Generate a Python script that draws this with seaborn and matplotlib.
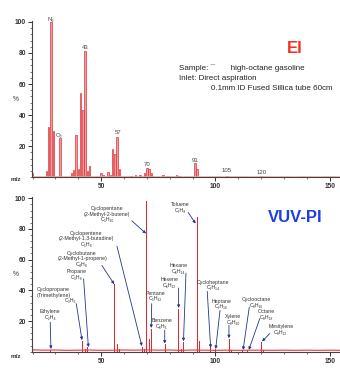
import matplotlib
matplotlib.use('Agg')
import numpy as np
import pandas as pd
import matplotlib.pyplot as plt
import seaborn as sns
from matplotlib.ticker import MultipleLocator, FixedLocator

# ---------------- data ----------------
ei_mz = [20, 26, 27, 28, 29, 32, 37, 38, 39, 40, 41, 42, 43, 44, 45, 50, 51, 53, 54,
         55, 56, 57, 58, 63, 65, 67, 69, 70, 71, 72, 77, 79, 83, 84, 91, 92, 105, 120]
ei_int = [3, 4, 32, 100, 30, 25, 2.5, 4.5, 27, 5, 54, 43, 81, 4, 7.5, 2.5, 1.5, 3.5, 1.5,
          18, 15, 26, 5.5, 1, 1.5, 1.5, 3, 6, 5, 3, 1.2, 0.8, 1.5, 1, 9, 5, 1, 0.5]

vuv_mz = [28, 42, 43, 44, 56, 57, 58, 68, 69, 70, 71, 72, 78, 84, 85, 86,
          92, 93, 98, 100, 106, 107, 112, 114, 120, 121]
vuv_int = [1.2, 7, 1.5, 3, 44, 5, 2, 3, 1.5, 98, 8, 15, 5, 28, 2, 6.5,
           87.5, 7, 3, 2, 8.2, 1, 1, 1, 6.5, 1]

vuv_base_mz = [20, 25, 30, 35, 40, 45, 50, 55, 60, 65, 70, 75, 80, 85, 90, 95,
               100, 105, 110, 115, 120, 125, 130, 135, 140, 145, 150, 155]
vuv_base = [1.2, 1.0, 1.1, 0.9, 1.0, 1.1, 0.9, 1.0, 1.1, 1.0, 1.2, 1.0, 1.1, 0.9,
            1.1, 1.0, 0.9, 1.0, 0.9, 1.0, 1.0, 0.9, 1.0, 0.9, 1.0, 0.9, 1.0, 0.9]
ei_base = [0.4, 0.3, 0.4, 0.3, 0.4, 0.3, 0.4, 0.3, 0.4, 0.3, 0.4, 0.3, 0.4, 0.3,
           0.4, 0.3, 0.4, 0.3, 0.4, 0.3, 0.4, 0.3, 0.4, 0.3, 0.4, 0.3, 0.4, 0.3]

ei_peak_labels = ['N₂', 'O₂', '43', '57', '70', '91', '105', '120']
vuv_compounds = [
    'Cyclopentane\n(2-Methyl-2-butene)\nC₅H₁₀',
    'Cyclopentene\n(2-Methyl-1,3-butadine)\nC₅H₈',
    'Cyclobutane\n(2-Methyl-1-propene)\nC₄H₈',
    'Propane\nC₃H₈',
    'Cyclopropane\n(Trimethylene)',
    'Ethylene\nC₂H₄',
    'Pentane\nC₅H₁₂',
    'Benzene\nC₆H₆',
    'Hexene\nC₆H₁₂',
    'Hexane\nC₆H₁₄',
    'Toluene\nC₇H₈',
    'Cycloheptane\nC₇H₁₄',
    'Heptane\nC₇H₁₆',
    'Xylene\nC₈H₁₀',
    'Cyclooctane\nC₈H₁₆',
    'Octane\nC₈H₁₈',
    'Mesitylene\nC₉H₁₂',
]

# ---------------- layout of annotations (positions only) ----------------
ei_label_pos = [(28, 101.8), (31.8, 27.0), (43, 83.5), (57.3, 28.6), (70, 7.9),
                (91, 10.6), (105, 4.0), (120, 2.8)]
# text anchor (x, top), arrow start, arrow end
vuv_layout = [
    ((52.6, 95.0), (63.4, 85.3), (69.6, 77.0)),
    ((43.4, 78.8), (56.9, 68.7), (67.8, 3.7)),
    ((41.6, 65.9), (50.3, 56.2), (55.7, 44.0)),
    ((39.4, 53.9), (42.3, 47.5), (44.4, 3.0)),
    ((29.2, 42.1), (39.1, 31.3), (41.6, 7.6)),
    ((27.7, 27.5), (27.7, 19.2), (28.0, 1.8)),
    ((73.6, 39.8), (72.1, 31.3), (71.9, 15.5)),
    ((76.5, 21.7), (77.8, 14.1), (77.8, 5.3)),
    ((79.8, 48.5), (83.8, 41.5), (83.9, 28.5)),
    ((83.8, 57.8), (87.1, 51.2), (86.0, 6.8)),
    ((84.5, 97.3), (88.1, 90.7), (91.3, 83.5)),
    ((99.1, 47.0), (96.4, 39.3), (97.9, 2.5)),
    ((102.7, 34.5), (102.0, 27.0), (100.1, 1.8)),
    ((107.8, 24.3), (105.9, 17.3), (105.9, 8.8)),
    ((118.0, 35.6), (114.8, 29.1), (112.1, 1.2)),
    ((122.4, 27.5), (119.4, 21.6), (114.6, 1.2)),
    ((128.6, 17.8), (123.8, 11.9), (120.4, 6.7)),
]

# ---------------- style ----------------
sns.set_style('ticks')
plt.rcParams['font.family'] = ['Liberation Sans', 'DejaVu Sans']
plt.rcParams['axes.linewidth'] = 0.8

fig = plt.figure(figsize=(3.4, 3.73), dpi=100)
ax1 = fig.add_axes([0.094, 0.525, 0.906, 0.4187])
ax2 = fig.add_axes([0.094, 0.0571, 0.906, 0.4139])

ei_df = pd.DataFrame({'mz': ei_mz, 'intensity': ei_int})
vuv_df = pd.DataFrame({'mz': vuv_mz, 'intensity': vuv_int})
base_df = pd.DataFrame({'mz': vuv_base_mz, 'vuv': vuv_base, 'ei': ei_base})

sns.lineplot(data=base_df, x='mz', y='ei', color='#f2a8a8', linewidth=0.6, ax=ax1)
sns.barplot(data=ei_df, x='mz', y='intensity', native_scale=True, width=0.62,
            color='#f09a9a', saturation=1, edgecolor='#dc2229', linewidth=0.45,
            errorbar=None, ax=ax1)

sns.lineplot(data=base_df, x='mz', y='vuv', color='#e8343a', linewidth=0.8, ax=ax2)
sns.barplot(data=vuv_df, x='mz', y='intensity', native_scale=True, width=0.5,
            color='#e8262c', saturation=1, linewidth=0, errorbar=None, ax=ax2)


def style(ax):
    ax.set_xlim(19.7, 154.5)
    ax.set_ylim(0, 100.6)
    ax.xaxis.set_major_locator(FixedLocator([50, 100, 150]))
    ax.xaxis.set_minor_locator(MultipleLocator(10))
    ax.yaxis.set_major_locator(FixedLocator([20, 40, 60, 80, 100]))
    ax.yaxis.set_minor_locator(MultipleLocator(4))
    sns.despine(ax=ax)
    for s in ['left', 'bottom']:
        ax.spines[s].set_color('#444444')
        ax.spines[s].set_linewidth(0.8)
    ax.tick_params(which='major', length=3, width=0.7, labelsize=4.8, pad=1.2,
                   colors='#333333')
    ax.tick_params(which='minor', length=1.6, width=0.5, colors='#444444')
    for lab in ax.get_xticklabels() + ax.get_yticklabels():
        lab.set_fontweight('bold')
    ax.set_xlabel('')
    ax.set_ylabel('')
    ax.text(-0.053, 0.5, '%', transform=ax.transAxes, fontsize=4.8,
            ha='center', va='center', color='#333333')
    ax.text(-0.052, -0.012, 'm/z', transform=ax.transAxes, fontsize=4.6,
            fontweight='bold', ha='center', va='center', color='#333333')


style(ax1)
style(ax2)
ax2.texts[-1].set_position((-0.052, -0.03))

# ---- EI panel text ----
for lab, (x, y) in zip(ei_peak_labels, ei_label_pos):
    ax1.text(x, y, lab, fontsize=4.3, ha='center', va='center', color='#444444')

ax1.text(134.7, 82.7, 'EI', fontsize=12, fontweight='bold', color='#f5321e',
         ha='center', va='center')
ax1.text(84.1, 69.9, 'Sample: ¯       high-octane gasoline', fontsize=5.8,
         ha='left', va='center', color='#222222')
ax1.text(84.1, 63.5, 'Inlet: Direct aspiration', fontsize=5.8,
         ha='left', va='center', color='#222222')
ax1.text(98.0, 57.1, '0.1mm ID Fused Sillica tube 60cm', fontsize=5.8,
         ha='left', va='center', color='#222222')

# ---- VUV panel text ----
navy = '#22388a'
for lab, ((tx, ty), a0, a1) in zip(vuv_compounds, vuv_layout):
    ax2.text(tx, ty, lab, fontsize=3.8, ha='center', va='top', color='#333333',
             linespacing=1.15)
    ax2.annotate('', xy=a1, xytext=a0,
                 arrowprops=dict(arrowstyle='-|>', color=navy, lw=0.6,
                                 mutation_scale=4, shrinkA=0, shrinkB=0))
ax2.text(36.5, 33.5, 'C₃H₆', fontsize=3.8, ha='center', va='center', color='#333333')

ax2.text(134.7, 87.4, 'VUV-PI', fontsize=12, fontweight='bold', color='#1f3fe6',
         ha='center', va='center')

fig.savefig('out.png', dpi=100)
